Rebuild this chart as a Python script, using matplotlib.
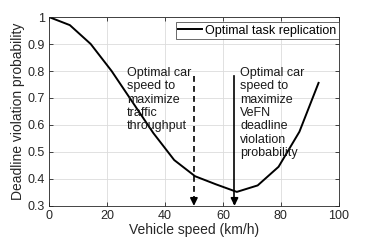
import matplotlib
matplotlib.use("Agg")
import matplotlib.pyplot as plt

speed = [0, 7.2, 14.4, 21.6, 28.8, 36.0, 43.2, 50.4, 57.6, 64.8, 72.0, 79.2, 86.4, 93.0]
prob = [1.0, 0.97, 0.90, 0.80, 0.685, 0.57, 0.47, 0.41, 0.38, 0.352, 0.376, 0.445, 0.575, 0.756]
legend_label = "Optimal task replication"
xticks = [0, 20, 40, 60, 80, 100]
yticks = [0.3, 0.4, 0.5, 0.6, 0.7, 0.8, 0.9, 1.0]
ytick_labels = ["0.3", "0.4", "0.5", "0.6", "0.7", "0.8", "0.9", "1"]
arrow_x = [50, 64]
arrow_top = 0.78
text1 = "Optimal car\nspeed to\nmaximize\ntraffic\nthroughput"
text2 = "Optimal car\nspeed to\nmaximize\nVeFN\ndeadline\nviolation\nprobability"

plt.rcParams['font.family'] = ['Liberation Sans', 'DejaVu Sans']
fig = plt.figure(figsize=(3.74, 2.4), dpi=100)
ax = fig.add_axes([0.131, 0.142, 0.775, 0.787])

ax.plot(speed, prob, color='black', lw=1.4, label=legend_label)
ax.set_xlim(0, 100)
ax.set_ylim(0.3, 1.0)
ax.set_xticks(xticks)
ax.set_yticks(yticks)
ax.set_yticklabels(ytick_labels)
ax.grid(True, color='#dcdcdc', lw=0.6)
ax.set_axisbelow(True)
ax.tick_params(direction='in', length=3, labelsize=9, colors='#262626', top=True, right=True,
               labeltop=False, labelright=False, width=0.6, pad=3)
for s in ax.spines.values():
    s.set_color('#262626')
    s.set_linewidth(0.6)
ax.set_xlabel("Vehicle speed (km/h)", fontsize=10, color='#262626', labelpad=1)
ax.set_ylabel("Deadline violation probability", fontsize=10, color='#262626', labelpad=2)

# arrows
ax.plot([arrow_x[0], arrow_x[0]], [arrow_top, 0.31], color='black', lw=1.2, ls=(0, (3.5, 2.5)))
ax.plot([arrow_x[1], arrow_x[1]], [arrow_top, 0.31], color='black', lw=1.2)
for xa in arrow_x:
    ax.annotate("", xy=(xa, 0.3), xytext=(xa, 0.33),
                arrowprops=dict(arrowstyle='-|>,head_length=0.45,head_width=0.22', color='black', lw=1.2,
                                shrinkA=0, shrinkB=0))

ax.text(26.8, 0.815, text1, fontsize=9, va='top', ha='left', linespacing=1.15, color='#1a1a1a')
ax.text(66.0, 0.815, text2, fontsize=9, va='top', ha='left', linespacing=1.15, color='#1a1a1a')

leg = ax.legend(loc='upper right', bbox_to_anchor=(1.0, 1 - 5 / 189), fontsize=9, frameon=True,
                fancybox=False, borderpad=0.2, handlelength=1.9, handletextpad=0.25, borderaxespad=0.0)
leg.get_frame().set_edgecolor('#262626')
leg.get_frame().set_linewidth(0.6)

fig.savefig("out.png", dpi=100)
